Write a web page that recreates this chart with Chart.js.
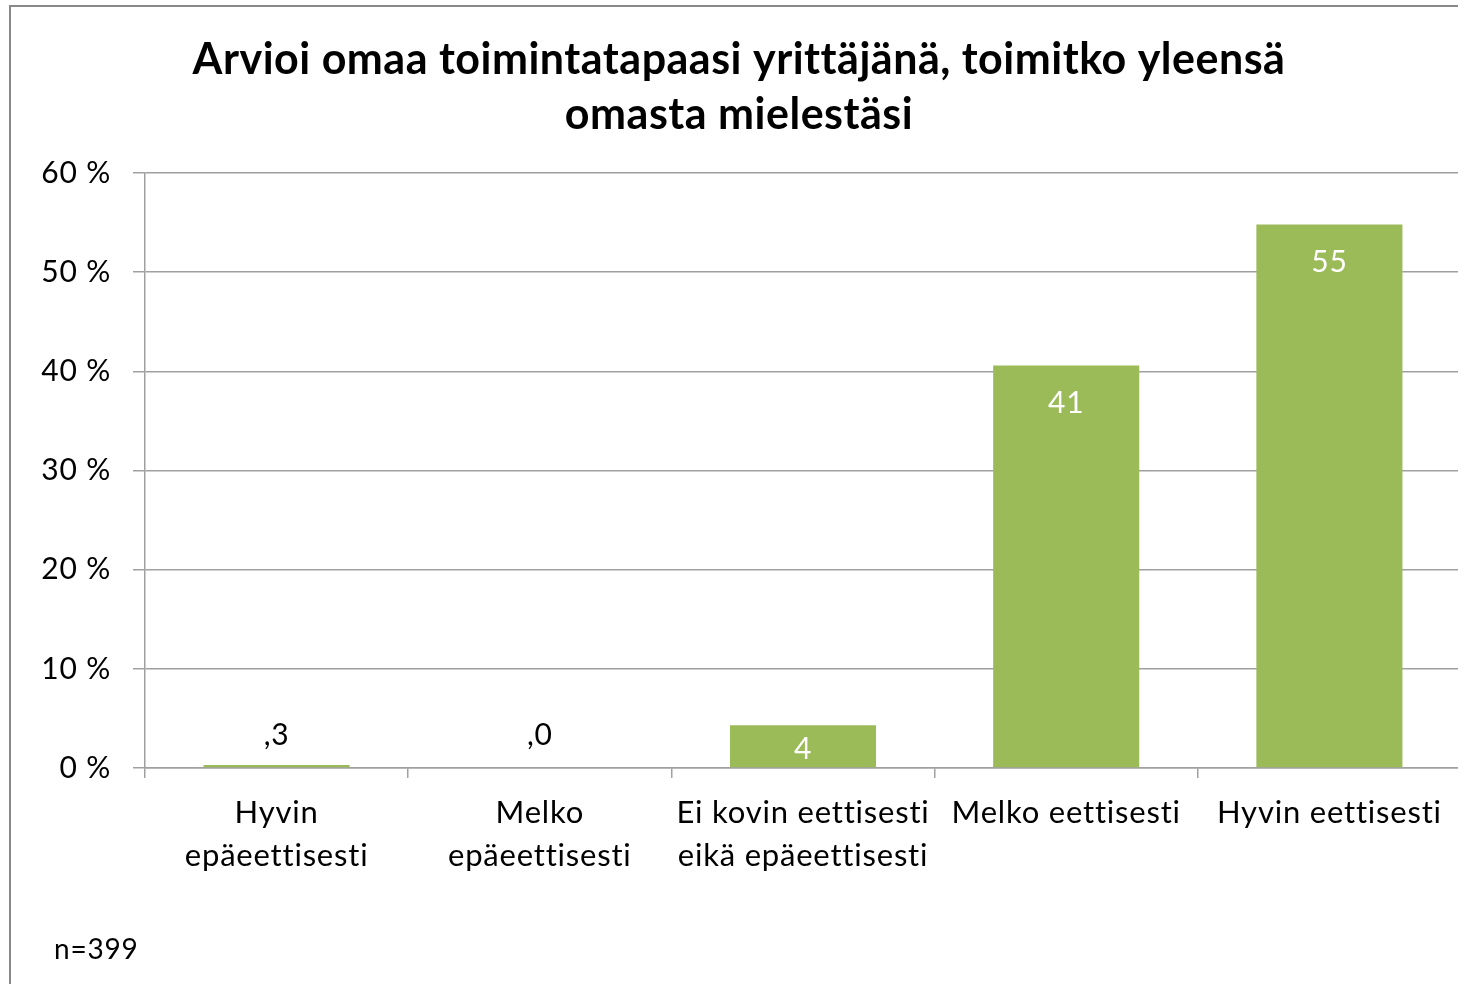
<!DOCTYPE html>
<html>
<head>
<meta charset="utf-8">
<script src="https://cdn.jsdelivr.net/npm/chart.js@4.4.1/dist/chart.umd.min.js"></script>
<style>
  html, body { margin: 0; padding: 0; background: #fff; overflow: hidden; }
  #wrap { width: 1466px; height: 984px; position: relative; }
</style>
</head>
<body>
<div id="wrap"><canvas id="c" width="1466" height="984"></canvas></div>
<script>
const titleLines = ['Arvioi omaa toimintatapaasi yrittäjänä, toimitko yleensä', 'omasta mielestäsi'];
const categories = [['Hyvin', 'epäeettisesti'], ['Melko', 'epäeettisesti'], ['Ei kovin eettisesti', 'eikä epäeettisesti'], 'Melko eettisesti', 'Hyvin eettisesti'];
const values = [0.3, 0.0, 4.3, 40.6, 54.8];
const yTicks = [0, 10, 20, 30, 40, 50, 60];
const noteText = 'n=399';

const FONT = 'Lato, "Open Sans", sans-serif';
const BAR = '#9bbb59';
const GRID = '#a0a0a0';

function fmt(v) {
  if (v < 1) return ',' + v.toFixed(1).split('.')[1];
  return String(Math.round(v));
}

const decor = {
  id: 'decor',
  beforeDraw(chart) {
    const ctx = chart.ctx;
    ctx.letterSpacing = '0.8px';
    ctx.save();
    ctx.fillStyle = '#fff';
    ctx.fillRect(0, 0, chart.width, chart.height);
    ctx.strokeStyle = '#898989';
    ctx.lineWidth = 2;
    ctx.strokeRect(10, 6, 1600, 1200);
    ctx.restore();
  },
  afterDraw(chart) {
    const ctx = chart.ctx;
    ctx.save();
    ctx.fillStyle = '#000';
    ctx.textAlign = 'center';
    ctx.textBaseline = 'middle';
    ctx.letterSpacing = '0.5px';
    ctx.font = 'bold 43px ' + FONT;
    ctx.fillText(titleLines[0], 739, 60);
    ctx.fillText(titleLines[1], 739, 115);
    ctx.letterSpacing = '0.8px';
    ctx.font = '28px ' + FONT;
    ctx.textAlign = 'left';
    ctx.fillText(noteText, 54, 950);
    // data labels
    const meta = chart.getDatasetMeta(0);
    const ys = chart.scales.y;
    const base = ys.getPixelForValue(0);
    ctx.font = '30px ' + FONT;
    ctx.textAlign = 'center';
    meta.data.forEach((bar, i) => {
      const v = values[i];
      const top = ys.getPixelForValue(v);
      let y, col;
      if (v < 1) { y = base - 33; col = '#000'; }
      else { y = Math.min(top + 38, base - 19); col = '#fff'; }
      ctx.fillStyle = col;
      ctx.fillText(fmt(v), bar.x, y);
    });
    ctx.restore();
  }
};

new Chart(document.getElementById('c'), {
  type: 'bar',
  data: {
    labels: categories,
    datasets: [{
      data: values,
      backgroundColor: BAR,
      borderWidth: 0,
      barPercentage: 0.555,
      categoryPercentage: 1.0
    }]
  },
  options: {
    responsive: false,
    animation: false,
    devicePixelRatio: 1,
    layout: { padding: { left: 0, right: 5, top: 173, bottom: 0 } },
    plugins: { legend: { display: false }, title: { display: false }, tooltip: { enabled: false } },
    scales: {
      x: {
        grid: { display: true, drawOnChartArea: false, drawTicks: true, tickLength: 10, color: GRID, lineWidth: 1.5, offset: true },
        border: { display: true, color: GRID, width: 1.5 },
        ticks: { color: '#000', font: { family: FONT, size: 31, lineHeight: 1.40 }, padding: 13, maxRotation: 0, autoSkip: false },
        afterFit(s) { s.height = 216; }
      },
      y: {
        min: 0, max: 60,
        afterBuildTicks(s) { s.ticks = yTicks.map(v => ({ value: v })); },
        grid: { color: GRID, lineWidth: 1.5, tickLength: 12 },
        border: { display: true, color: GRID, width: 1.5 },
        ticks: { color: '#000', font: { family: FONT, size: 30 }, padding: 22, callback: v => v + ' %' },
        afterFit(s) { s.width = 145; }
      }
    }
  },
  plugins: [decor]
});
</script>
</body>
</html>
